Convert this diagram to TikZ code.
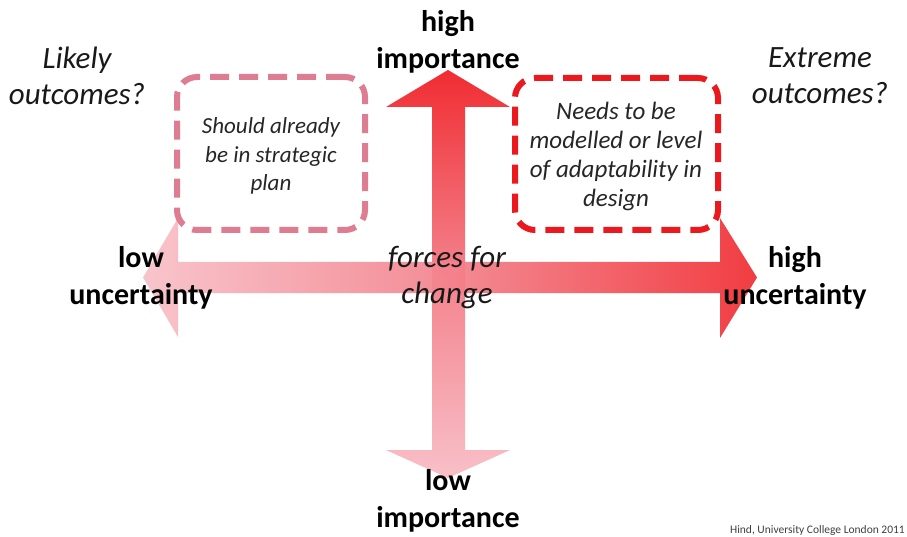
\documentclass[tikz,border=0pt]{standalone}
\usepackage{fontspec}
\setmainfont{Carlito}
\definecolor{pale}{RGB}{248,192,200}
\definecolor{midpink}{RGB}{244,130,140}
\definecolor{hot}{RGB}{240,45,50}
\definecolor{lboxc}{RGB}{222,125,145}
\definecolor{rboxc}{RGB}{235,25,30}
\tikzset{
  big/.style={font=\fontsize{30}{37}\selectfont\bfseries, align=center, text=black, inner sep=0pt},
  ital/.style={font=\fontsize{31}{36}\selectfont\itshape, align=center, text=black!90, inner sep=0pt},
  boxtxt/.style={font=\fontsize{23}{28.5}\selectfont\itshape, align=center, text=black!85},
  boxtxtb/.style={font=\fontsize{25}{29}\selectfont\itshape, align=center, text=black!85},
  dbox/.style={line width=6pt, rounded corners=20pt, dash pattern=on 19pt off 10pt, inner sep=0pt},
}
\begin{document}
\begin{tikzpicture}[x=1pt,y=-1pt]
\useasboundingbox[fill=white] (0,0) rectangle (907,537);
% vertical arrow
\shade[top color=hot, bottom color=pale, middle color=midpink]
  (448,70) -- (510,107) -- (465,107) -- (465,450) -- (510,450) -- (448,478)
  -- (386,450) -- (432,450) -- (432,107) -- (386,107) -- cycle;
% horizontal arrow
\shade[left color=pale, right color=hot, middle color=midpink, opacity=0.92]
  (143,277.5) -- (178,218) -- (178,262) -- (720,262) -- (720,218) -- (757,277.5)
  -- (720,338) -- (720,293) -- (178,293) -- (178,337) -- cycle;
% boxes
\node[dbox, draw=lboxc, minimum width=188pt, minimum height=153pt] (lbox) at (271,153.5) {};
\node[boxtxt] (ltxt) at (271,156) {Should already\\be in strategic\\plan};
\node[dbox, draw=rboxc, minimum width=203pt, minimum height=152pt] (rbox) at (616.5,154) {};
\node[boxtxtb] (rtxt) at (616,156) {Needs to be\\modelled or level\\of adaptability in\\design};
% labels
\node[big] (hi) at (448,42) {high\\importance};
\node[big] (lo) at (448,501) {low\\importance};
\node[big] (lu) at (141,278) {low\\uncertainty};
\node[big] (hu) at (795,278) {high\\uncertainty};
\node[ital] (lk) at (77,76) {Likely\\outcomes?};
\node[ital] (ex) at (820,76) {Extreme\\outcomes?};
\node[ital] (fc) at (447,278) {forces for\\change};
\node[font=\fontsize{11.5}{13}\selectfont, text=black!75, anchor=east, inner sep=0pt] (cr) at (905,530) {Hind, University College London 2011};
\end{tikzpicture}
\end{document}
